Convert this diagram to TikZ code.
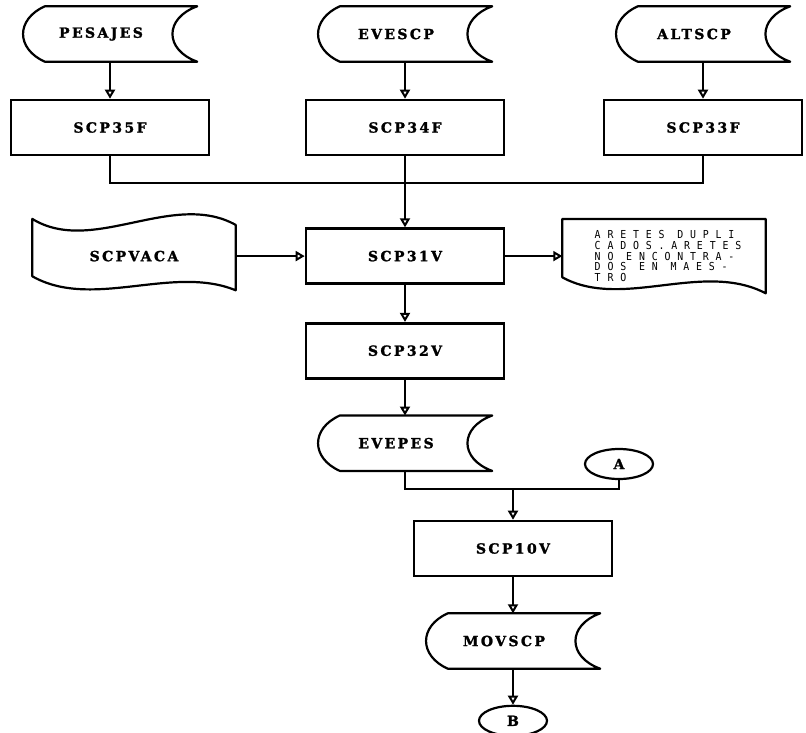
\documentclass[tikz,border=0pt]{standalone}
\usepackage{fontspec}
\newfontfamily\chartfont[LetterSpace=17, FakeBold=1.6]{DejaVu Serif}
\newfontfamily\printfont[LetterSpace=62, FakeStretch=0.9]{DejaVu Sans Mono}
\usetikzlibrary{shapes.geometric, arrows.meta, positioning, calc}

% outlines drawn round plain (undrawn) nodes
\newcommand\storedshape[1]{%
  \draw[outline] ($(#1.north west)+(22,0)$) -- (#1.north east)
    .. controls +(-33,12) and +(-33,-12) .. (#1.south east)
    -- ($(#1.south west)+(22,0)$)
    .. controls +(-29,-13) and +(-29,13) .. ($(#1.north west)+(22,0)$) -- cycle;}
\newcommand\punchedshape[1]{%
  \draw[outline] ($(#1.north west)+(0,-9)$)
    .. controls ($(#1.north west)+(60,28)$) and ($(#1.north east)+(-63,-38)$) .. ($(#1.north east)+(0,-3)$)
    -- ($(#1.south east)+(0,6)$)
    .. controls ($(#1.south east)+(-63,-20)$) and ($(#1.south west)+(60,26)$) .. ($(#1.south west)+(0,-8)$)
    -- cycle;}
\newcommand\printshape[1]{%
  \draw[outline] ($(#1.south west)+(0,-16)$) -- (#1.north west) -- (#1.north east)
    -- (#1.south east)
    .. controls ($(#1.south east)+(-63,-33)$) and ($(#1.south west)+(60,17)$) .. ($(#1.south west)+(0,-16)$)
    -- cycle;}

\begin{document}
\begin{tikzpicture}[
    x=1pt, y=-1pt,
    node distance=37pt and 69pt,
    lbl/.style={font={\fontsize{14}{16}\selectfont\chartfont\bfseries}},
    proc/.style={
      rectangle, draw, line width=2.6pt,
      minimum width=198pt, minimum height=55pt, lbl
    },
    stored/.style={
      rectangle, minimum width=174pt, minimum height=55pt, lbl,
      execute at end node={\hspace*{18pt}}
    },
    punched/.style={rectangle, minimum width=203pt, minimum height=56pt, lbl},
    printout/.style={
      rectangle, minimum width=203pt, minimum height=74pt,
      align=left, font={\fontsize{11}{10.6}\selectfont\printfont},
      execute at begin node={\hspace*{8pt}}
    },
    onpage/.style={ellipse, draw, line width=2.2pt,
      minimum width=68pt, minimum height=30pt, inner sep=0pt, lbl},
    outline/.style={line width=2.2pt, line join=round},
    link/.style={line width=1.5pt},
    arr/.style={link, -{Triangle[open, length=9pt, width=10pt, line width=2pt]}}
  ]
    \useasboundingbox (0,0) rectangle (806,733);

    \node[proc] (scp35) at (110,127.5) {SCP35F};
    \node[proc] (scp34) at (405,127.5) {SCP34F};
    \node[proc] (scp33) at (703,127.5) {SCP33F};
    \node[stored, above=of scp35] (pesajes) {PESAJES};
    \node[stored, above=of scp34] (evescp) {EVESCP};
    \node[stored, above=of scp33] (altscp) {ALTSCP};

    \node[proc, below=71pt of scp34] (scp31) {SCP31V};
    \node[punched, left=of scp31] (scpvaca) {SCPVACA};
    \node[printout, right=57pt of scp31] (aretes)
      {ARETES DUPLI\\CADOS.ARETES\\NO ENCONTRA-\\DOS EN MAES-\\TRO};
    \node[proc, below=of scp31] (scp32) {SCP32V};
    \node[stored, below=36pt of scp32] (evepes) {EVEPES};

    \node[onpage] (pa) at (619,464) {A};
    \node[proc] (scp10) at (513,548.5) {SCP10V};
    \node[stored, below=36pt of scp10] (movscp) {MOVSCP};
    \node[onpage, below=36pt of movscp] (pb) {B};

    \storedshape{pesajes}
    \storedshape{evescp}
    \storedshape{altscp}
    \storedshape{evepes}
    \storedshape{movscp}
    \punchedshape{scpvaca}
    \printshape{aretes}

    \coordinate (top join) at (405,183);
    \coordinate (low join) at (513,489);

    \draw[arr] (pesajes) -- (scp35);
    \draw[arr] (evescp)  -- (scp34);
    \draw[arr] (altscp)  -- (scp33);
    \draw[link] (scp35.south) |- (top join);
    \draw[link] (scp33.south) |- (top join);
    \draw[arr] (scp34) -- (scp31);
    \draw[arr] (scpvaca) -- (scp31);
    \draw[arr] (scp31.east) -- (scp31.east -| aretes.west);
    \draw[arr] (scp31) -- (scp32);
    \draw[arr] (scp32) -- (evepes);
    \draw[link] (evepes.south) |- (low join);
    \draw[link] (pa.south) |- (low join);
    \draw[arr] (low join) -- (scp10);
    \draw[arr] (scp10) -- (movscp);
    \draw[arr] (movscp) -- (pb);
  \end{tikzpicture}
\end{document}
